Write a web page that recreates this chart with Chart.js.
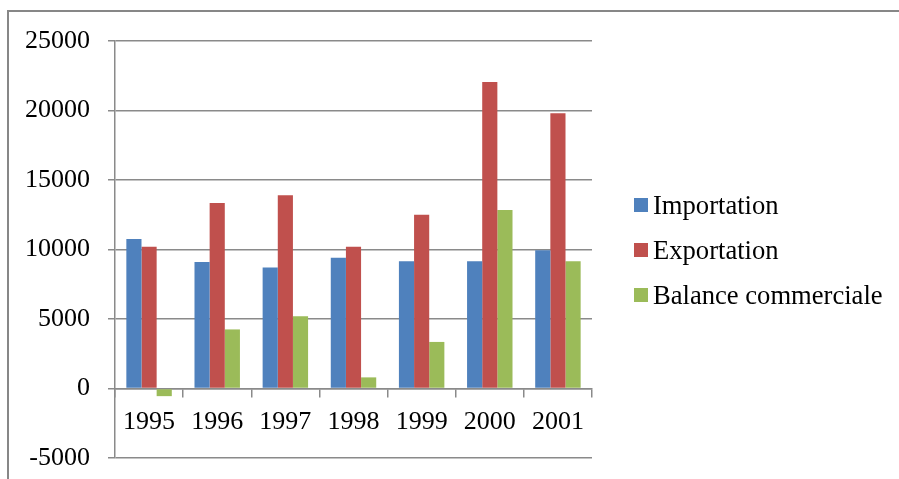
<!DOCTYPE html>
<html>
<head>
<meta charset="utf-8">
<script src="https://cdn.jsdelivr.net/npm/chart.js@4/dist/chart.umd.min.js"></script>
<style>
  html, body { margin: 0; padding: 0; background: #fff; }
  #wrap { position: relative; width: 899px; height: 479px; }
  canvas { display: block; }
</style>
</head>
<body>
<div id="wrap"><canvas id="c" width="899" height="479"></canvas></div>
<script>
// Commerce extérieur, 1995-2001
const years = ['1995', '1996', '1997', '1998', '1999', '2000', '2001'];
const importation = [10750, 9100, 8700, 9400, 9150, 9150, 9950];
const exportation = [10200, 13350, 13900, 10200, 12500, 22050, 19800];
const balance = [-550, 4250, 5200, 800, 3350, 12850, 9150];

const seriesNames = ['Importation', 'Exportation', 'Balance commerciale'];
const seriesColors = ['#4F81BD', '#C0504D', '#9BBB59'];

const yMin = -5000, yMax = 25000, yStep = 5000;

const FONT = '"Liberation Serif", "Times New Roman", serif';
const GRID = '#8a8a8a';

// Frame around the chart (left and top edges)
const framePlugin = {
  id: 'frame',
  beforeDraw(chart) {
    const ctx = chart.ctx;
    ctx.save();
    ctx.strokeStyle = '#878787';
    ctx.lineWidth = 2;
    ctx.beginPath();
    ctx.moveTo(8, chart.height);
    ctx.lineTo(8, 11);
    ctx.lineTo(chart.width, 11);
    ctx.stroke();
    ctx.restore();
  }
};

// Legend on the right: square swatch followed by the series name
const sideLegend = {
  id: 'sideLegend',
  afterDraw(chart) {
    const ctx = chart.ctx;
    ctx.save();
    ctx.font = '26.6px ' + FONT;
    ctx.textBaseline = 'alphabetic';
    ctx.textAlign = 'left';
    chart.data.datasets.forEach((ds, i) => {
      const cy = 205 + i * 45;
      ctx.fillStyle = ds.backgroundColor;
      ctx.fillRect(634, cy - 7, 14, 14);
      ctx.fillStyle = '#000';
      ctx.fillText(ds.label, 653, cy + 9);
    });
    ctx.restore();
  }
};

// Labels may overflow the plot edges; the plot area is set by layout padding alone
function noOverflowPadding(scale) {
  scale.paddingTop = 0;
  scale.paddingBottom = 0;
  scale.paddingLeft = 0;
  scale.paddingRight = 0;
}

new Chart(document.getElementById('c'), {
  type: 'bar',
  data: {
    labels: years,
    datasets: [
      { label: seriesNames[0], data: importation, backgroundColor: seriesColors[0] },
      { label: seriesNames[1], data: exportation, backgroundColor: seriesColors[1] },
      { label: seriesNames[2], data: balance, backgroundColor: seriesColors[2] }
    ]
  },
  options: {
    responsive: false,
    animation: false,
    devicePixelRatio: 1,
    layout: { padding: { top: 41, bottom: 21, left: 0, right: 307 } },
    datasets: {
      bar: { categoryPercentage: 0.667, barPercentage: 1.0, borderWidth: 0 }
    },
    plugins: {
      legend: { display: false },
      tooltip: { enabled: false }
    },
    scales: {
      x: {
        position: { y: 0 },
        offset: true,
        afterFit: noOverflowPadding,
        grid: {
          offset: true,
          drawOnChartArea: false,
          drawTicks: true,
          tickLength: 8,
          color: GRID,
          lineWidth: 1.5
        },
        border: { display: true, color: GRID, width: 1.5 },
        ticks: {
          color: '#000',
          padding: 10,
          font: { family: FONT, size: 26 },
          maxRotation: 0
        }
      },
      y: {
        min: yMin,
        max: yMax,
        afterFit(scale) { noOverflowPadding(scale); scale.width = 115; },
        grid: {
          color: GRID,
          lineWidth: 1.5,
          drawTicks: true,
          tickLength: 7
        },
        border: { display: true, color: GRID, width: 1.5 },
        ticks: {
          stepSize: yStep,
          color: '#000',
          padding: 18,
          font: { family: FONT, size: 26 },
          callback: (v) => String(v)
        }
      }
    }
  },
  plugins: [framePlugin, sideLegend]
});
</script>
</body>
</html>
